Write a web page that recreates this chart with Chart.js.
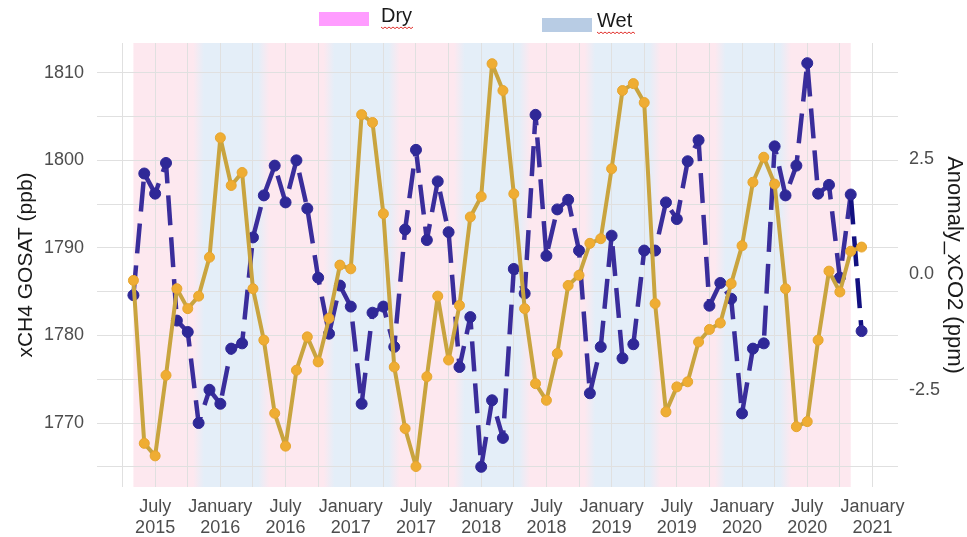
<!DOCTYPE html>
<html>
<head>
<meta charset="utf-8">
<title>xCH4 GOSAT and xCO2 anomaly</title>
<script src="https://cdn.jsdelivr.net/npm/chart.js@4.4.1/dist/chart.umd.min.js"></script>
<style>
  html, body { margin: 0; padding: 0; background: #ffffff; }
  #wrap { width: 967px; height: 537px; }
</style>
</head>
<body>
<div id="wrap"><canvas id="myChart" width="967" height="537"></canvas></div>
<script>
// monthly observations, May 2015 - Dec 2020
var months = [
    '2015-05','2015-06','2015-07','2015-08','2015-09','2015-10','2015-11','2015-12',
    '2016-01','2016-02','2016-03','2016-04','2016-05','2016-06','2016-07','2016-08','2016-09','2016-10','2016-11','2016-12',
    '2017-01','2017-02','2017-03','2017-04','2017-05','2017-06','2017-07','2017-08','2017-09','2017-10','2017-11','2017-12',
    '2018-01','2018-02','2018-03','2018-04','2018-05','2018-06','2018-07','2018-08','2018-09','2018-10','2018-11','2018-12',
    '2019-01','2019-02','2019-03','2019-04','2019-05','2019-06','2019-07','2019-08','2019-09','2019-10','2019-11','2019-12',
    '2020-01','2020-02','2020-03','2020-04','2020-05','2020-06','2020-07','2020-08','2020-09','2020-10','2020-11','2020-12'
];
// xCH4 GOSAT (ppb)
var ch4Gosat = [
    1784.6, 1798.5, 1796.2, 1799.7, 1781.7, 1780.4, 1770.0, 1773.8,
    1772.2, 1778.5, 1779.1, 1791.2, 1796.0, 1799.4, 1795.2, 1800.0, 1794.5, 1786.6, 1780.2, 1785.7,
    1783.3, 1772.2, 1782.6, 1783.3, 1778.7, 1792.1, 1801.2, 1790.9, 1797.6, 1791.8, 1776.4, 1782.1,
    1765.0, 1772.6, 1768.3, 1787.6, 1784.8, 1805.2, 1789.1, 1794.4, 1795.5, 1789.7, 1773.4, 1778.7,
    1791.4, 1777.4, 1779.0, 1789.7, 1789.7, 1795.2, 1793.3, 1799.9, 1802.3, 1783.4, 1786.0, 1784.2,
    1771.1, 1778.5, 1779.1, 1801.6, 1796.0, 1799.4, 1811.1, 1796.2, 1797.2, 1786.6, 1796.1, 1780.5
];
// Anomaly xCO2 (ppm)
var co2Anomaly = [
    -0.13, -3.65, -3.92, -2.18, -0.31, -0.74, -0.47, 0.37,
    2.95, 1.92, 2.20, -0.31, -1.42, -3.00, -3.71, -2.07, -1.35, -1.89, -0.95, 0.20,
    0.12, 3.45, 3.28, 1.31, -2.00, -3.33, -4.15, -2.21, -0.47, -1.85, -0.67, 1.24,
    1.68, 4.55, 3.97, 1.74, -0.74, -2.36, -2.72, -1.71, -0.24, -0.02, 0.67, 0.77,
    2.28, 3.97, 4.12, 3.71, -0.63, -2.97, -2.43, -2.32, -1.46, -1.19, -1.05, -0.20,
    0.62, 1.99, 2.53, 1.95, -0.31, -3.29, -3.18, -1.42, 0.07, -0.38, 0.50, 0.59
];
// season of each shaded month, May 2015 - Oct 2020
var seasons = [
    'Dry','Dry','Dry','Dry','Dry','Dry','Wet','Wet',
    'Wet','Wet','Wet','Wet','Dry','Dry','Dry','Dry','Dry','Dry','Wet','Wet',
    'Wet','Wet','Wet','Wet','Dry','Dry','Dry','Dry','Dry','Dry','Wet','Wet',
    'Wet','Wet','Wet','Wet','Dry','Dry','Dry','Dry','Dry','Dry','Wet','Wet',
    'Wet','Wet','Wet','Wet','Dry','Dry','Dry','Dry','Dry','Dry','Wet','Wet',
    'Wet','Wet','Wet','Wet','Dry','Dry','Dry','Dry','Dry','Dry'
];
var legendLabels = ['Dry', 'Wet'];
var monthNames = ['January','February','March','April','May','June',
                  'July','August','September','October','November','December'];

// secondary axis transform: ppb = co2Origin + co2Scale * ppm
var co2Origin = 1786.98;
var co2Scale = 5.288;

var dryColor = '#fde8ef';
var wetColor = '#e4eef8';

function monthIndex( ym ){
    var p = ym.split('-');
    return (parseInt(p[0]) - 2015) * 12 + parseInt(p[1]) - 1;
}

// x range with 5% expansion like ggplot
var xFirst = monthIndex(months[0]);
var xLast = monthIndex(months[months.length - 1]);
var xPad = (xLast - xFirst) * 0.05;

var allPpb = ch4Gosat.concat(co2Anomaly.map(function(a){ return co2Origin + co2Scale * a; }));
var yLo = Math.min.apply(null, allPpb);
var yHi = Math.max.apply(null, allPpb);
var yPad = (yHi - yLo) * 0.05;
var yMin = yLo - yPad, yMax = yHi + yPad;

function toPoints( values ){
    return months.map(function(m, i){ return { x: monthIndex(m), y: values[i] }; });
}

// dry / wet background, blended between month centres
var seasonShading = {
    id: 'seasonShading',
    beforeDraw: function( chart ){
        var ctx = chart.ctx, area = chart.chartArea, xs = chart.scales.x;
        var x0 = xs.getPixelForValue(xFirst);
        var x1 = xs.getPixelForValue(xFirst + seasons.length);
        var grad = ctx.createLinearGradient(x0, 0, x1, 0);
        for ( var i = 0; i < seasons.length; i++ ){
            var c = xs.getPixelForValue(xFirst + i + 0.5);
            grad.addColorStop((c - x0) / (x1 - x0), seasons[i] === 'Dry' ? dryColor : wetColor);
        }
        ctx.save();
        ctx.fillStyle = grad;
        ctx.fillRect(x0, area.top, x1 - x0, area.bottom - area.top);
        ctx.restore();
    }
};

function squiggle( ctx, x, y, w ){
    ctx.beginPath();
    for ( var k = 0; k <= w; k += 2 ){
        var yy = y + ((k / 2) % 2 === 0 ? 0 : 1.6);
        if (k === 0) ctx.moveTo(x + k, yy); else ctx.lineTo(x + k, yy);
    }
    ctx.strokeStyle = '#e0302c';
    ctx.lineWidth = 1;
    ctx.stroke();
}

// the two season keys above the plot
var seasonLegend = {
    id: 'seasonLegend',
    afterDraw: function( chart ){
        var ctx = chart.ctx;
        var items = [
            { box: [319, 12, 50, 14], fill: '#ff9cff', tx: 381, ty: 22, w: 32 },
            { box: [542, 18, 50, 14], fill: '#b8cce4', tx: 597, ty: 27, w: 39 }
        ];
        ctx.save();
        ctx.font = '20px "Liberation Sans", Arial, sans-serif';
        ctx.textBaseline = 'alphabetic';
        for ( var i = 0; i < items.length; i++ ){
            var it = items[i];
            ctx.fillStyle = it.fill;
            ctx.fillRect(it.box[0], it.box[1], it.box[2], it.box[3]);
            ctx.fillStyle = '#1a1a1a';
            ctx.fillText(legendLabels[i], it.tx, it.ty);
            squiggle(ctx, it.tx, it.ty + 5, it.w);
        }
        ctx.restore();
    }
};

var tickFont = { family: '"Liberation Sans", Arial, sans-serif', size: 18 };
var gridStyle = { color: '#e0e0e0', lineWidth: 1, drawTicks: false };

var ctx = document.getElementById('myChart').getContext('2d');
var myChart = new Chart(ctx, {
    type: 'line',
    data: {
        datasets: [{
            label: 'Anomaly_xCO2',
            data: toPoints(co2Anomaly),
            yAxisID: 'y2',
            borderColor: '#c9a43f',
            borderWidth: 4,
            borderJoinStyle: 'round',
            pointRadius: 5,
            pointBackgroundColor: '#efad33',
            pointBorderColor: '#e6a530',
            pointBorderWidth: 1,
            tension: 0
        }, {
            label: 'xCH4 GOSAT',
            data: toPoints(ch4Gosat),
            yAxisID: 'y',
            borderColor: '#3a2d9b',
            borderWidth: 4.5,
            borderDash: [30, 12],
            borderJoinStyle: 'round',
            pointRadius: 5.5,
            pointBackgroundColor: '#2f2897',
            pointBorderColor: '#2f2897',
            pointBorderWidth: 1,
            tension: 0,
            segment: {
                // the closing month is drawn in a darker navy
                borderColor: function( c ){ return c.p1DataIndex === ch4Gosat.length - 1 ? '#121080' : undefined; }
            }
        }]
    },
    options: {
        responsive: false,
        animation: false,
        layout: { padding: { top: 43, left: 10, right: 0, bottom: 0 } },
        plugins: {
            legend: { display: false },
            tooltip: { enabled: false }
        },
        scales: {
            x: {
                type: 'linear',
                min: xFirst - xPad,
                max: xLast + xPad,
                border: { display: false },
                grid: gridStyle,
                ticks: {
                    stepSize: 3,
                    includeBounds: false,
                    autoSkip: false,
                    maxRotation: 0,
                    padding: 9,
                    color: '#4d4d4d',
                    font: tickFont,
                    callback: function( v ){
                        var m = ((v % 12) + 12) % 12;
                        if (m === 0 || m === 6) return [monthNames[m], String(2015 + Math.floor(v / 12))];
                        return '';
                    }
                },
                afterFit: function( s ){ s.height = 50; }
            },
            y: {
                position: 'left',
                min: yMin,
                max: yMax,
                border: { display: false },
                grid: gridStyle,
                ticks: {
                    stepSize: 5,
                    includeBounds: false,
                    padding: 13,
                    color: '#4d4d4d',
                    font: tickFont,
                    callback: function( v ){ return Math.round(v) % 10 === 0 ? String(Math.round(v)) : ''; }
                },
                title: {
                    display: true,
                    text: 'xCH4 GOSAT (ppb)',
                    color: '#1a1a1a',
                    font: { family: '"Liberation Sans", Arial, sans-serif', size: 21 },
                    padding: { top: 4, bottom: 0 }
                },
                afterFit: function( s ){ s.width = 87; }
            },
            y2: {
                position: 'right',
                min: (yMin - co2Origin) / co2Scale,
                max: (yMax - co2Origin) / co2Scale,
                border: { display: false },
                grid: { display: false, drawTicks: false },
                ticks: {
                    stepSize: 2.5,
                    includeBounds: false,
                    padding: 11,
                    color: '#4d4d4d',
                    font: tickFont,
                    callback: function( v ){ return v.toFixed(1); }
                },
                title: {
                    display: true,
                    text: 'Anomaly_xCO2 (ppm)',
                    color: '#1a1a1a',
                    font: { family: '"Liberation Sans", Arial, sans-serif', size: 22 },
                    padding: { top: 0, bottom: 0 }
                },
                afterFit: function( s ){ s.width = 69; }
            }
        }
    },
    plugins: [seasonShading, seasonLegend]
});
</script>
</body>
</html>
